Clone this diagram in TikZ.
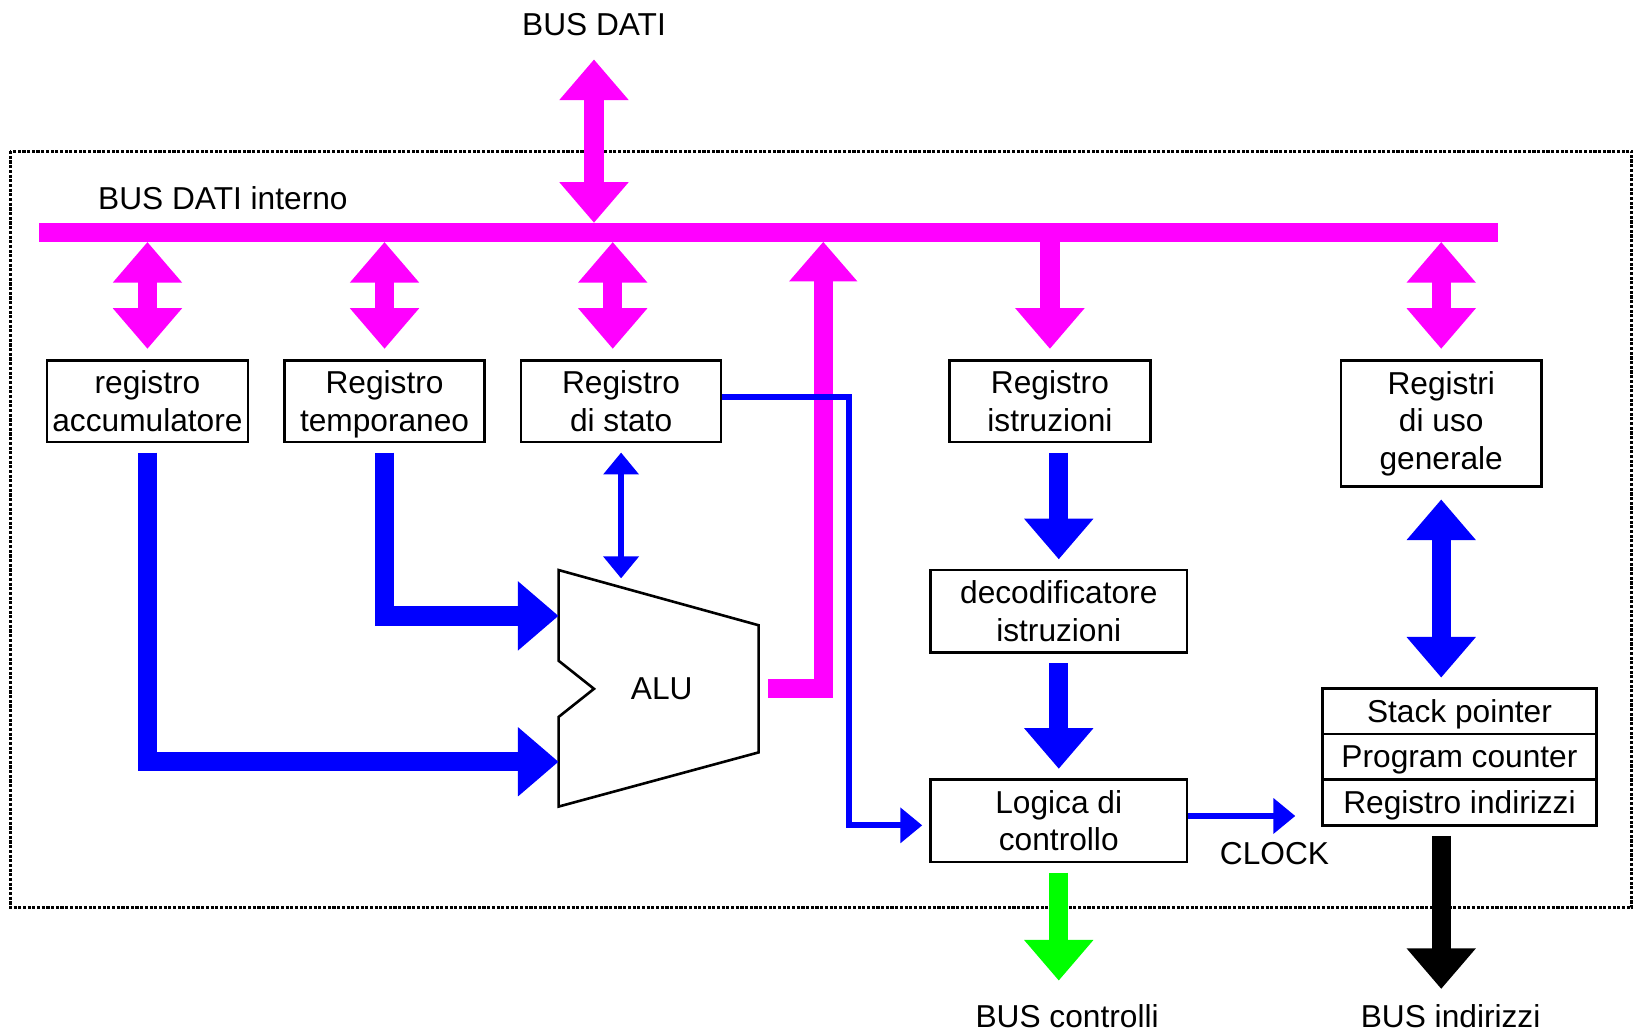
\documentclass[tikz,border=0pt]{standalone}
\usepackage{amsmath}
\usepackage{fontspec}
\setmainfont{Liberation Sans}
\usetikzlibrary{arrows.meta}
\definecolor{mag}{RGB}{255,0,255}
\definecolor{blu}{RGB}{0,0,255}
\definecolor{grn}{RGB}{0,255,0}
\newcommand\fsz{\fontsize{30.4}{36}\selectfont}
\begin{document}
\begin{tikzpicture}[x=1pt,y=-1pt,
  box/.style={draw, line width=2.5pt, inner sep=0pt, align=center, font=\fsz},
  lbl/.style={inner sep=0pt, font=\fsz},
  fat/.style={line width=18.5pt, -{Triangle[width=64pt,length=39pt]}},
  fatboth/.style={line width=18.5pt, {Triangle[width=64pt,length=39pt]}-{Triangle[width=64pt,length=39pt]}},
  thin/.style={line width=5.5pt, blu, -{Triangle[width=33pt,length=21pt]}},
  thinboth/.style={line width=5.5pt, blu, {Triangle[width=33pt,length=21pt]}-{Triangle[width=33pt,length=21pt]}},
  border/.style={line width=2.8pt, dash pattern=on 3pt off 1.5pt}
]
\useasboundingbox (0,0) rectangle (1568,991);
\fill[white] (0,0) rectangle (1568,991);

% dotted CPU border
\draw[border] (10,145) rectangle (1566,871);

% internal data bus
\node[fill=mag, minimum width=1400pt, minimum height=18pt, inner sep=0pt] (bus) at (737,223) {};
\node[lbl, anchor=west] (busint) at (94,190) {BUS DATI interno};
\node[lbl] (busdati) at (570,24) {BUS DATI};

% boxes
\node[box, minimum width=193pt, minimum height=78pt] (acc) at (141.5,385) {registro\\accumulatore};
\node[box, minimum width=192pt, minimum height=78pt] (tmp) at (369,385) {Registro\\\smash[b]{temporaneo}};
\node[box, minimum width=192pt, minimum height=78pt] (sta) at (596,385) {Registro\\di stato};
\node[box, minimum width=193pt, minimum height=78pt] (ist) at (1007.5,385) {Registro\\istruzioni};
\node[box, minimum width=192pt, minimum height=121pt] (gen) at (1383,406.5) {Registri\\di uso\\generale};
\node[box, minimum width=246pt, minimum height=79pt] (dec) at (1016,586.5) {decodificatore\\istruzioni};
\node[box, minimum width=246pt, minimum height=79pt] (log) at (1016,787.5) {Logica di\\controllo};
\node[box, minimum width=263pt, minimum height=43.8pt] (sp) at (1400.5,682.4) {\smash[b]{Stack pointer}};
\node[box, minimum width=263pt, minimum height=43.8pt] (pc) at (1400.5,726.2) {\smash[b]{Program counter}};
\node[box, minimum width=263pt, minimum height=43.8pt] (ri) at (1400.5,770) {\smash[b]{Registro indirizzi}};

% ALU
\draw[line width=2.5pt, line join=miter] (536,547) -- (728,600) -- (728,722) -- (536,774) -- (536,688) -- (570,661) -- (536,634) -- cycle;
\node[lbl] (alu) at (635,661) {ALU};
\coordinate (aluin1) at (536,591);
\coordinate (aluin2) at (536,731);
\coordinate (alutop) at (596,555);
\coordinate (aluout) at (737,661);
\coordinate (busin) at (790,232);
\coordinate (bdtop) at (570,57);
\coordinate (bc) at (1016,941);
\coordinate (bi) at (1383,949);
\coordinate (clk) at (1243,783);
\coordinate (turn) at (815,792);
\coordinate (login) at (885,792);

% labels outside
\node[lbl] (clock) at (1223,819) {CLOCK};
\node[lbl] (busctl) at (1024,975) {BUS controlli};
\node[lbl] (busind) at (1392,975) {BUS indirizzi};

% magenta bus connections
\draw[mag, fatboth] (bdtop) -- (bdtop |- bus.north);
\draw[mag, fatboth, shorten >=10pt] (bus.south -| acc.north) -- (acc.north);
\draw[mag, fatboth, shorten >=10pt] (bus.south -| tmp.north) -- (tmp.north);
\draw[mag, fatboth, shorten >=10pt] (bus.south -| 588,0) -- ([xshift=-8pt]sta.north);
\draw[mag, fatboth, shorten >=10pt] (bus.south -| gen.north) -- (gen.north);
\draw[mag, fat, shorten >=10pt] (bus.south -| ist.north) -- (ist.north);
\draw[mag, line width=18pt, line join=miter, -{Triangle[width=63pt,length=38pt]}] (aluout) -| (busin);

% blue thick data paths
\draw[blu, fat, line join=miter, shorten <=9pt] (acc.south) |- (aluin2);
\draw[blu, fat, line join=miter, shorten <=9pt] (tmp.south) |- (aluin1);
\draw[blu, fat, shorten <=9pt, shorten >=9pt] (ist.south -| dec.north) -- (dec.north);
\draw[blu, fat, shorten <=9pt, shorten >=9pt] (dec.south) -- (log.north);
\draw[blu, fatboth, shorten <=11pt, shorten >=9pt] (gen.south) -- (gen.south |- sp.north);
\draw[grn, fat, shorten <=9pt] (log.south) -- (bc);
\draw[black, fat, shorten <=9pt] (ri.south -| gen.south) -- (bi);

% thin blue lines
\draw[thinboth, shorten <=9pt] (sta.south) -- (alutop);
\draw[thin, line join=miter] ([yshift=4pt]sta.east) -| (turn) -- (login);
\draw[line width=6.5pt, blu, -{Triangle[width=33pt,length=21pt]}] ([yshift=4.5pt]log.east) -- (clk);
\end{tikzpicture}
\end{document}
